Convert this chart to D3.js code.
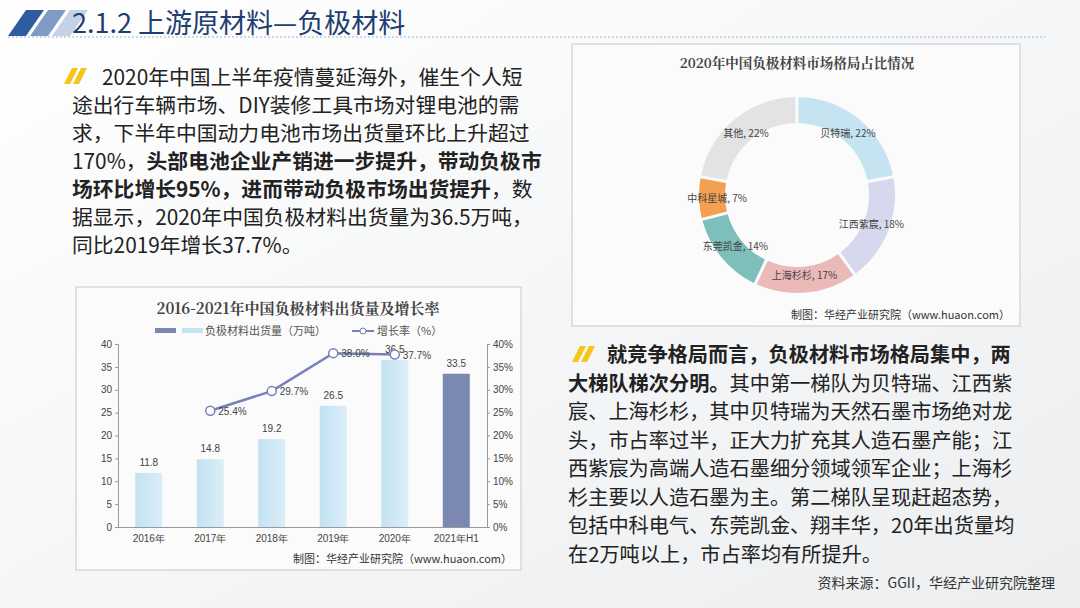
<!DOCTYPE html>
<html>
<head>
<meta charset="utf-8">
<script src="https://cdnjs.cloudflare.com/ajax/libs/d3/7.8.5/d3.min.js"></script>
</head>
<body style="margin:0;">
<svg id="slide"></svg>
<script>
// data
var years = ["2016年", "2017年", "2018年", "2019年", "2020年", "2021年H1"]
var shipments = [11.8, 14.8, 19.2, 26.5, 36.5, 33.5]
var growthYears = ["2017年", "2018年", "2019年", "2020年"]
var growth = [25.4, 29.7, 38.0, 37.7]
var leftTicks = [0, 5, 10, 15, 20, 25, 30, 35, 40]
var rightTicks = [0, 5, 10, 15, 20, 25, 30, 35, 40]

var firms = ["贝特瑞", "江西紫宸", "上海杉杉", "东莞凯金", "中科星城", "其他"]
var shares = [22, 18, 17, 14, 7, 22]
var firmColors = ["#c6e3f2", "#d6d9ee", "#ecb9b9", "#7fbfbb", "#f3a052", "#e3e3e3"]

var leftPara = [
  [["2020年中国上半年疫情蔓延海外，催生个人短", 0]],
  [["途出行车辆市场、DIY装修工具市场对锂电池的需", 0]],
  [["求，下半年中国动力电池市场出货量环比上升超过", 0]],
  [["170%，", 0], ["头部电池企业产销进一步提升，带动负极市", 1]],
  [["场环比增长95%，进而带动负极市场出货提升", 1], ["，数", 0]],
  [["据显示，2020年中国负极材料出货量为36.5万吨，", 0]],
  [["同比2019年增长37.7%。", 0]]
]
var rightPara = [
  [["就竞争格局而言，负极材料市场格局集中，两", 1]],
  [["大梯队梯次分明。", 1], ["其中第一梯队为贝特瑞、江西紫", 0]],
  [["宸、上海杉杉，其中贝特瑞为天然石墨市场绝对龙", 0]],
  [["头，市占率过半，正大力扩充其人造石墨产能；江", 0]],
  [["西紫宸为高端人造石墨细分领域领军企业；上海杉", 0]],
  [["杉主要以人造石墨为主。第二梯队呈现赶超态势，", 0]],
  [["包括中科电气、东莞凯金、翔丰华，20年出货量均", 0]],
  [["在2万吨以上，市占率均有所提升。", 0]]
]

var font = "'Noto Sans CJK SC', 'Noto Sans', sans-serif"
var svg = d3.select("#slide").attr("width", 1080).attr("height", 608)
  .style("font-family", font)

var bg = svg.append("defs").append("linearGradient").attr("id", "bg")
  .attr("x1", 0).attr("y1", 0).attr("x2", 1).attr("y2", 1)
bg.append("stop").attr("offset", 0).attr("stop-color", "#ffffff")
bg.append("stop").attr("offset", 1).attr("stop-color", "#eceef0")
svg.append("rect").attr("width", 1080).attr("height", 608).attr("fill", "url(#bg)")

// header
var stripes = [["#2e5c9e", 8], ["#7f9cc6", 30], ["#c3d2e6", 52]]
stripes.forEach(function(s) {
  svg.append("path").attr("fill", s[0])
    .attr("d", "M" + (s[1] + 18) + ",10 L" + (s[1] + 36) + ",10 L" + (s[1] + 18) + ",36 L" + s[1] + ",36 Z")
})
svg.append("text").attr("x", 72).attr("y", 33).attr("font-size", 27)
  .attr("fill", "#1e3d70").text("2.1.2 上游原材料—负极材料")
svg.append("line").attr("x1", 8).attr("x2", 1045).attr("y1", 37).attr("y2", 37)
  .attr("stroke", "#9fb3cf").attr("stroke-dasharray", "2,2")

function slashes(x, y) {
  ;[0, 9].forEach(function(d) {
    svg.append("path").attr("fill", "#f5c518")
      .attr("d", "M" + (x + d + 8) + "," + (y - 16) + " L" + (x + d + 14) + "," + (y - 16) + " L" + (x + d + 6) + "," + y + " L" + (x + d) + "," + y + " Z")
  })
}
function para(lines, x0, xFirst, y0, step, size) {
  lines.forEach(function(ln, i) {
    var t = svg.append("text").attr("x", i == 0 ? xFirst : x0).attr("y", y0 + i * step)
      .attr("font-size", size).attr("fill", "#222")
    ln.forEach(function(seg) {
      t.append("tspan").attr("font-weight", seg[1] ? "bold" : "normal").text(seg[0])
    })
  })
}
slashes(64, 84)
para(leftPara, 72, 102, 85, 28, 20.8)
slashes(572, 362)
para(rightPara, 568, 607, 362, 28.5, 20.2)

svg.append("text").attr("x", 1055).attr("y", 588).attr("text-anchor", "end")
  .attr("font-size", 14).attr("fill", "#333").text("资料来源：GGII，华经产业研究院整理")

// bar chart
var bc = svg.append("g")
bc.append("rect").attr("x", 76).attr("y", 287).attr("width", 445).attr("height", 283)
  .attr("fill", "#fbfbfb").attr("stroke", "#c8c8c8")
bc.append("text").attr("x", 298).attr("y", 314).attr("text-anchor", "middle")
  .attr("font-size", 15).attr("font-weight", "bold").attr("fill", "#444")
  .style("font-family", "'Noto Serif CJK SC', serif").text("2016-2021年中国负极材料出货量及增长率")

var x = d3.scaleBand().domain(years).range([118, 487])
var yL = d3.scaleLinear().domain([0, 40]).range([527, 344])
var yR = d3.scaleLinear().domain([0, 40]).range([527, 344])

var bgrad = svg.select("defs").append("linearGradient").attr("id", "barg")
bgrad.append("stop").attr("offset", 0).attr("stop-color", "#c3e2f2")
bgrad.append("stop").attr("offset", 1).attr("stop-color", "#dbeef8")

bc.append("g").attr("transform", "translate(118,0)")
  .call(d3.axisLeft(yL).tickValues(leftTicks).tickSize(3))
  .call(function(g) { g.selectAll("text").attr("font-size", 10).attr("fill", "#444").style("font-family", "Arial") })
bc.append("g").attr("transform", "translate(487,0)")
  .call(d3.axisRight(yR).tickValues(rightTicks).tickSize(3).tickFormat(function(d) { return d + "%" }))
  .call(function(g) { g.selectAll("text").attr("font-size", 10).attr("fill", "#444").style("font-family", "Arial") })
bc.append("g").attr("transform", "translate(0,527)")
  .call(d3.axisBottom(x).tickSize(0).tickPadding(8))
  .call(function(g) { g.selectAll("text").attr("font-size", 10).attr("fill", "#444") })
bc.selectAll(".domain, .tick line").attr("stroke", "#999")

var bw = 27
bc.selectAll(".bar").data(shipments).enter().append("rect")
  .attr("x", function(d, i) { return x(years[i]) + x.bandwidth() / 2 - bw / 2 })
  .attr("y", function(d) { return yL(d) })
  .attr("width", bw).attr("height", function(d) { return 527 - yL(d) })
  .attr("fill", function(d, i) { return i == years.length - 1 ? "#7a88b2" : "url(#barg)" })
bc.selectAll(".bl").data(shipments).enter().append("text")
  .attr("x", function(d, i) { return x(years[i]) + x.bandwidth() / 2 })
  .attr("y", function(d) { return yL(d) - 7 })
  .attr("text-anchor", "middle").attr("font-size", 10).attr("fill", "#444")
  .style("font-family", "Arial").text(function(d) { return d })

var line = d3.line().x(function(d, i) { return x(growthYears[i]) + x.bandwidth() / 2 })
  .y(function(d) { return yR(d) })
bc.append("path").datum(growth).attr("d", line).attr("fill", "none")
  .attr("stroke", "#7681b9").attr("stroke-width", 2.5)
bc.selectAll(".pt").data(growth).enter().append("circle")
  .attr("cx", function(d, i) { return x(growthYears[i]) + x.bandwidth() / 2 })
  .attr("cy", function(d) { return yR(d) }).attr("r", 4.5)
  .attr("fill", "#fff").attr("stroke", "#7681b9").attr("stroke-width", 1.5)
bc.selectAll(".gl").data(growth).enter().append("text")
  .attr("x", function(d, i) { return x(growthYears[i]) + x.bandwidth() / 2 + 8 })
  .attr("y", function(d) { return yR(d) + 4 })
  .attr("font-size", 10).attr("fill", "#444").style("font-family", "Arial")
  .text(function(d) { return d.toFixed(1) + "%" })

// legend
bc.append("rect").attr("x", 155).attr("y", 328).attr("width", 21).attr("height", 5).attr("fill", "#7a88b2")
bc.append("rect").attr("x", 182).attr("y", 328).attr("width", 21).attr("height", 5).attr("fill", "#c3e2f2")
bc.append("text").attr("x", 205).attr("y", 335).attr("font-size", 11).attr("fill", "#555").text("负极材料出货量（万吨）")
bc.append("line").attr("x1", 352).attr("x2", 374).attr("y1", 331).attr("y2", 331).attr("stroke", "#7681b9").attr("stroke-width", 2)
bc.append("circle").attr("cx", 363).attr("cy", 331).attr("r", 3).attr("fill", "#fff").attr("stroke", "#7681b9")
bc.append("text").attr("x", 377).attr("y", 335).attr("font-size", 11).attr("fill", "#555").text("增长率（%）")
bc.append("text").attr("x", 512).attr("y", 563).attr("text-anchor", "end").attr("font-size", 11)
  .attr("fill", "#333").text("制图：华经产业研究院（www.huaon.com）")

// donut chart
var dc = svg.append("g")
dc.append("rect").attr("x", 572).attr("y", 44).attr("width", 448).attr("height", 282)
  .attr("fill", "#fbfbfb").attr("stroke", "#c8c8c8")
dc.append("text").attr("x", 797).attr("y", 68).attr("text-anchor", "middle")
  .attr("font-size", 13.5).attr("font-weight", "bold").attr("fill", "#444")
  .style("font-family", "'Noto Serif CJK SC', serif").text("2020年中国负极材料市场格局占比情况")
var pie = d3.pie().sort(null)
var arc = d3.arc().innerRadius(72).outerRadius(98).padAngle(0.025)
var lab = d3.arc().innerRadius(80).outerRadius(80)
var dg = dc.append("g").attr("transform", "translate(797,195)")
dg.selectAll("path").data(pie(shares)).enter().append("path")
  .attr("d", arc).attr("fill", function(d, i) { return firmColors[i] })
dg.selectAll("text").data(pie(shares)).enter().append("text")
  .attr("transform", function(d) { var c = lab.centroid(d); return "translate(" + c[0] + "," + (c[1] + 4) + ")" })
  .attr("text-anchor", "middle").attr("font-size", 10).attr("fill", "#444")
  .text(function(d, i) { return firms[i] + ", " + shares[i] + "%" })
dc.append("text").attr("x", 1010).attr("y", 319).attr("text-anchor", "end").attr("font-size", 11)
  .attr("fill", "#333").text("制图：华经产业研究院（www.huaon.com）")
</script>
</body>
</html>
